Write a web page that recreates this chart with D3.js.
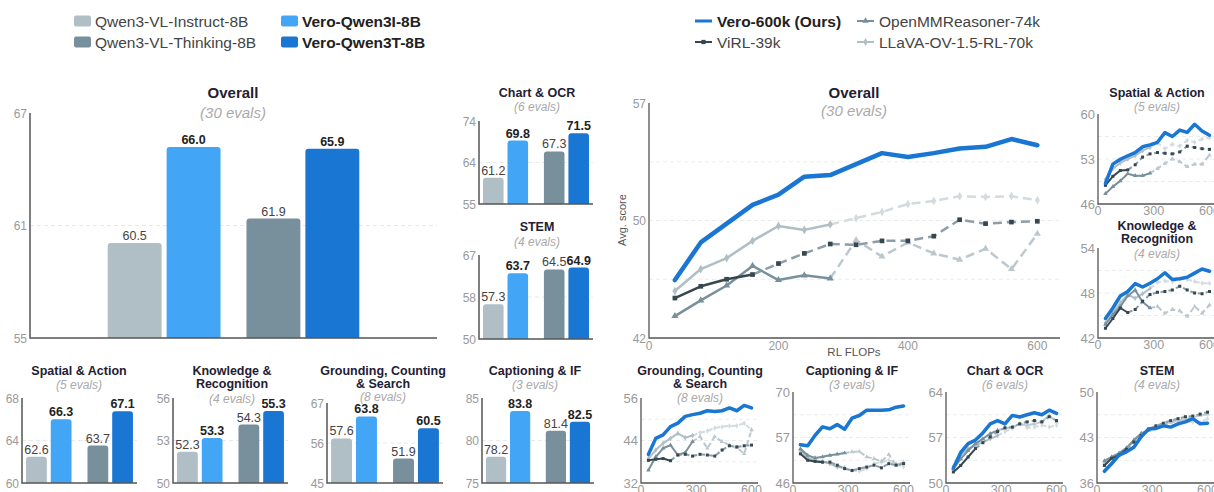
<!DOCTYPE html>
<html><head><meta charset="utf-8">
<script src="https://cdn.jsdelivr.net/npm/d3@7"></script>
<style>
html,body{margin:0;padding:0;background:#fff;overflow:hidden}
svg{display:block;font-family:"Liberation Sans",Arial,Helvetica,sans-serif}
</style></head><body>
<svg id="c" width="1214" height="492"></svg>
<script>
// ---------------- DATA ----------------
const barModels = ["Qwen3-VL-Instruct-8B","Vero-Qwen3I-8B","Qwen3-VL-Thinking-8B","Vero-Qwen3T-8B"];
const barOurs = [false,true,false,true];
const barGroups = ["Instruct","Thinking"];

const barOverall    = [60.5,66.0,61.9,65.9];
const barChartOCR   = [61.2,69.8,67.3,71.5];
const barSTEM       = [57.3,63.7,64.5,64.9];
const barSpatial    = [62.6,66.3,63.7,67.1];
const barKnowledge  = [52.3,53.3,54.3,55.3];
const barGrounding  = [57.6,63.8,51.9,60.5];
const barCaptioning = [78.2,83.8,81.4,82.5];

const barDomOverall=[55.06,67.95], barTickOverall=["55","61","67"];
const barDomChartOCR=[55.1,74.35], barTickChartOCR=["55","64","74"];
const barDomSTEM=[50.1,67.5], barTickSTEM=["50","58","67"];
const barDomSpatial=[60.0,68.4], barTickSpatial=["60","64","68"];
const barDomKnowledge=[50.0,56.25], barTickKnowledge=["50","53","56"];
const barDomGrounding=[45.0,67.6], barTickGrounding=["45","56","67"];
const barDomCaptioning=[75.0,85.4], barTickCaptioning=["75","80","85"];

const lineSeries = ["Vero-600k (Ours)","ViRL-39k","OpenMMReasoner-74k","LLaVA-OV-1.5-RL-70k"];
const lineEpochEnd = [null,160,280,280];
const flops = [40,80,120,160,200,240,280,320,360,400,440,480,520,560,600];

// order: Vero, ViRL, OpenMM, LLaVA
const lineOverall = [
 [45.7,48.1,49.3,50.5,51.15,52.3,52.4,53.1,53.8,53.55,53.8,54.1,54.2,54.7,54.3],
 [44.55,45.3,45.75,46.05,46.75,47.4,48.0,47.95,48.2,48.2,48.5,49.55,49.3,49.4,49.45],
 [43.4,44.4,45.35,46.6,45.7,46.0,45.8,48.25,47.2,48.1,47.4,47.0,47.7,46.4,48.65],
 [45.0,46.4,47.1,48.2,49.15,48.9,49.25,49.65,50.05,50.55,50.75,51.05,51.0,51.05,50.8]];
const lineSpatial = [
 [49.2,52.2,52.95,53.5,54.0,54.9,55.2,55.6,57.1,56.5,57.5,57.15,58.4,57.35,56.7],
 [48.9,50.3,51.2,51.3,52.1,53.3,53.8,54.0,53.9,53.8,54.1,55.0,54.8,54.6,54.5],
 [47.6,48.7,49.6,50.7,50.4,50.4,50.8,51.5,52.3,53.0,52.6,51.8,52.2,52.2,53.6],
 [49.8,51.5,52.4,53.0,53.5,54.3,54.8,55.5,54.6,55.3,55.0,55.9,55.6,56.1,56.3]];
const lineKnowledge = [
 [44.6,46.0,47.6,48.2,49.25,48.8,49.3,49.9,50.7,49.8,49.9,50.1,50.65,51.2,50.9],
 [43.3,44.6,46.0,45.4,45.8,46.9,47.8,48.1,48.2,48.4,48.9,48.4,48.0,47.9,48.2],
 [43.8,45.1,46.2,47.6,48.4,46.8,46.0,46.2,45.3,45.8,45.6,44.9,46.2,45.3,46.4],
 [44.0,45.4,46.7,47.8,47.3,47.9,48.6,49.4,49.6,49.5,49.9,49.8,49.55,49.3,49.3]];
const lineGrounding = [
 [40.05,44.6,45.6,47.9,48.9,50.8,51.3,51.7,52.4,52.2,52.4,53.2,52.4,53.9,53.2],
 [38.4,38.7,38.9,38.3,39.9,40.1,39.6,40.1,39.9,39.6,41.3,42.5,42.2,42.5,42.7],
 [35.6,39.4,41.8,42.7,39.9,40.6,43.7,45.1,41.8,45.1,43.7,42.7,42.0,40.3,47.0],
 [38.9,41.3,43.2,44.6,46.0,44.8,45.4,46.2,46.7,47.5,47.9,48.1,48.2,48.9,47.0]];
const lineCaptioning = [
 [56.1,55.8,58.6,60.8,60.3,61.4,60.2,63.1,63.8,65.2,65.2,65.2,65.3,66.0,66.3],
 [53.7,52.0,51.7,51.5,51.5,50.7,49.8,49.3,49.8,50.2,50.7,50.0,51.1,50.7,51.1],
 [55.0,53.3,52.6,52.9,53.3,53.6,53.9,54.2,54.3,52.9,52.4,51.7,53.5,50.7,51.5],
 [54.6,52.6,52.0,51.7,51.1,50.2,50.0,49.3,49.1,49.8,51.1,51.5,52.0,51.1,50.2]];
const lineChartOCR = [
 [52.3,54.7,56.05,56.6,57.7,59.1,59.6,59.1,60.4,60.15,60.5,60.8,60.5,61.2,60.7],
 [51.7,52.7,54.0,55.3,56.2,57.1,57.9,58.5,58.6,59.1,59.4,59.6,59.4,60.2,59.6],
 [52.2,53.7,55.0,56.05,56.8,57.6,58.1,58.4,58.6,59.1,58.9,59.1,59.4,60.4,59.4],
 [52.5,54.3,55.3,55.8,56.3,56.8,57.3,57.9,58.4,59.1,58.5,58.6,58.9,58.6,58.9]];
const lineSTEM = [
 [37.8,39.0,40.3,40.8,41.5,43.1,44.3,44.4,44.8,44.6,45.1,45.4,45.9,45.1,45.2],
 [38.7,39.8,40.3,41.2,42.3,43.3,44.3,44.8,45.2,45.6,45.9,46.2,46.3,46.6,46.9],
 [39.4,40.0,40.6,41.4,42.6,43.6,44.1,44.6,45.0,45.3,45.6,45.8,46.1,46.4,46.6],
 [39.0,39.9,40.5,41.3,42.4,43.6,44.2,44.5,44.9,45.4,45.6,45.5,45.4,45.3,45.9]];

const lineDomOverall=[42,57], lineTickOverall=["42","50","57"];
const lineDomSpatial=[46,60], lineTickSpatial=["46","53","60"];
const lineDomKnowledge=[42,54], lineTickKnowledge=["42","48","54"];
const lineDomGrounding=[32,56], lineTickGrounding=["32","44","56"];
const lineDomCaptioning=[46,70], lineTickCaptioning=["46","57","70"];
const lineDomChartOCR=[50,64], lineTickChartOCR=["50","57","64"];
const lineDomSTEM=[36,50], lineTickSTEM=["36","43","50"];
const xTicksBig=[0,200,400,600], xTicksSmall=[0,300,600];

// ---------------- STYLE ----------------
const barColors = ["#b0bec5","#42a5f5","#78909c","#1976d2"];
const lineColors = ["#1976d2","#37474f","#78909c","#b0bec5"];
const lineAfter  = [null,"#8d9ea8","#bcc8ce","#d3dbdf"];
const lineSymbols = [null,d3.symbolSquare,d3.symbolTriangle,d3.symbolDiamond];
const TITLE="#1f2033", SUB="#aaaaaa", TICK="#9a9a9a", AXIS="#555";

const svg = d3.select("#c");

function txt(g,x,y,s,opt){
  const t=g.append("text").attr("x",x).attr("y",y).text(s)
   .attr("font-size",opt.size).attr("fill",opt.fill||"#333")
   .attr("text-anchor",opt.anchor||"middle");
  if(opt.bold) t.attr("font-weight","bold");
  if(opt.italic) t.attr("font-style","italic");
  return t;
}
function titles(g,p){
  p.title.forEach((t,i)=>txt(g,p.tx,p.ty[i]+p.ts*0.36,t,{size:p.ts,bold:true,fill:TITLE}));
  txt(g,p.tx,p.sy+p.ss*0.36,p.sub,{size:p.ss,italic:true,fill:SUB});
}

// ---------------- LEGENDS ----------------
(function(){
  const g=svg.append("g");
  const pos=[[74,21],[281,21],[74,42],[281,42]];
  barModels.forEach((m,i)=>{
    const [x,y]=pos[i];
    g.append("rect").attr("x",x).attr("y",y-5.5).attr("width",17).attr("height",11).attr("rx",2).attr("fill",barColors[i]);
    txt(g,x+21,y+5.5,m,{size:15.5,anchor:"start",bold:barOurs[i],fill:barOurs[i]?"#222":"#444"});
  });
  const lpos=[[695,21],[857,21],[695,42],[857,42]];
  const lorder=[0,2,1,3]; // Vero, OpenMM (row1), ViRL, LLaVA (row2)
  lorder.forEach((si,k)=>{
    const [x,y]=lpos[k];
    g.append("line").attr("x1",x).attr("x2",x+17).attr("y1",y).attr("y2",y)
      .attr("stroke",lineColors[si]).attr("stroke-width",si===0?3:2);
    if(lineSymbols[si]) g.append("path").attr("d",d3.symbol().type(lineSymbols[si]).size(18)())
      .attr("transform",`translate(${x+8.5},${y})`).attr("fill",lineColors[si]);
    txt(g,x+22,y+5.5,lineSeries[si],{size:15.5,anchor:"start",bold:si===0,fill:si===0?"#222":"#444"});
  });
})();

// ---------------- BAR PANELS ----------------
const barPanels=[
 {title:["Overall"],sub:"(30 evals)",v:barOverall,dom:barDomOverall,tk:barTickOverall,x0:30,x1:437,y0:113,y1:338,tx:233,ty:[93],sy:113,ts:15,ss:15,pi:0.187,po:0.56,ps:0.085},
 {title:["Chart & OCR"],sub:"(6 evals)",v:barChartOCR,dom:barDomChartOCR,tk:barTickChartOCR,x0:479,x1:593,y0:121,y1:204,tx:537,ty:[92],sy:107,ts:12.5,ss:12,pi:0.26,po:0.066,ps:0.16},
 {title:["STEM"],sub:"(4 evals)",v:barSTEM,dom:barDomSTEM,tk:barTickSTEM,x0:479,x1:593,y0:255,y1:339,tx:537,ty:[226],sy:242,ts:12.5,ss:12,pi:0.26,po:0.066,ps:0.16},
 {title:["Spatial & Action"],sub:"(5 evals)",v:barSpatial,dom:barDomSpatial,tk:barTickSpatial,x0:22,x1:137,y0:398,y1:483,tx:79,ty:[370],sy:385,ts:12.5,ss:12,pi:0.26,po:0.066,ps:0.16},
 {title:["Knowledge &","Recognition"],sub:"(4 evals)",v:barKnowledge,dom:barDomKnowledge,tk:barTickKnowledge,x0:173,x1:288,y0:398,y1:483,tx:232,ty:[370,383],sy:399,ts:12.5,ss:12,pi:0.26,po:0.066,ps:0.16},
 {title:["Grounding, Counting","& Search"],sub:"(8 evals)",v:barGrounding,dom:barDomGrounding,tk:barTickGrounding,x0:327,x1:443,y0:403,y1:483,tx:383,ty:[370,383],sy:397,ts:12.5,ss:12,pi:0.26,po:0.066,ps:0.16},
 {title:["Captioning & IF"],sub:"(3 evals)",v:barCaptioning,dom:barDomCaptioning,tk:barTickCaptioning,x0:482,x1:594,y0:398,y1:483,tx:535,ty:[370],sy:385,ts:12.5,ss:12,pi:0.26,po:0.066,ps:0.16}
];
function topRounded(x,yt,w,yb,r){
  r=Math.min(r,w/2,(yb-yt));
  return `M${x},${yb}V${yt+r}Q${x},${yt} ${x+r},${yt}H${x+w-r}Q${x+w},${yt} ${x+w},${yt+r}V${yb}Z`;
}
barPanels.forEach(p=>{
  const g=svg.append("g");
  const y=d3.scaleLinear().domain(p.dom).range([p.y1,p.y0]);
  const xg=d3.scaleBand().domain(barGroups).range([p.x0,p.x1]).paddingInner(p.pi).paddingOuter(p.po);
  const xs=d3.scaleBand().domain([0,1]).range([0,xg.bandwidth()]).paddingInner(p.ps);
  const mid=(p.dom[0]+p.dom[1])/2;
  g.append("line").attr("x1",p.x0).attr("x2",p.x1).attr("y1",y(mid)).attr("y2",y(mid))
    .attr("stroke","#e8e8e8").attr("stroke-dasharray","4,3");
  titles(g,p);
  p.v.forEach((v,i)=>{
    const bx=xg(barGroups[Math.floor(i/2)])+xs(i%2), bw=xs.bandwidth();
    g.append("path").attr("d",topRounded(bx,y(v),bw,p.y1,3)).attr("fill",barColors[i]);
    txt(g,bx+bw/2,y(v)-3,v.toFixed(1),{size:12.5,bold:barOurs[i],fill:barOurs[i]?"#222":"#444"});
  });
  [p.dom[0],mid,p.dom[1]].forEach((t,i)=>txt(g,p.x0-3,y(t)+4.5,p.tk[i],{size:12,anchor:"end",fill:TICK}));
  g.append("path").attr("d",`M${p.x0},${p.y0}V${p.y1}H${p.x1}`).attr("fill","none").attr("stroke",AXIS).attr("stroke-width",1.5);
});

// ---------------- LINE PANELS ----------------
const linePanels=[
 {big:true,title:["Overall"],sub:"(30 evals)",d:lineOverall,dom:lineDomOverall,tk:lineTickOverall,xt:xTicksBig,x0:649,x1:1060,y0:103,y1:338,tx:854,ty:[93],sy:111,ts:15,ss:15},
 {title:["Spatial & Action"],sub:"(5 evals)",d:lineSpatial,dom:lineDomSpatial,tk:lineTickSpatial,xt:xTicksSmall,x0:1098,x1:1216,y0:114,y1:204,tx:1157,ty:[92],sy:107,ts:12.5,ss:12},
 {title:["Knowledge &","Recognition"],sub:"(4 evals)",d:lineKnowledge,dom:lineDomKnowledge,tk:lineTickKnowledge,xt:xTicksSmall,x0:1098,x1:1216,y0:248,y1:338,tx:1157,ty:[225,238],sy:254,ts:12.5,ss:12},
 {title:["Grounding, Counting","& Search"],sub:"(8 evals)",d:lineGrounding,dom:lineDomGrounding,tk:lineTickGrounding,xt:xTicksSmall,x0:641,x1:758,y0:398,y1:483,tx:700,ty:[370,383],sy:398,ts:12.5,ss:12},
 {title:["Captioning & IF"],sub:"(3 evals)",d:lineCaptioning,dom:lineDomCaptioning,tk:lineTickCaptioning,xt:xTicksSmall,x0:793,x1:910,y0:392,y1:483,tx:852,ty:[370],sy:385,ts:12.5,ss:12},
 {title:["Chart & OCR"],sub:"(6 evals)",d:lineChartOCR,dom:lineDomChartOCR,tk:lineTickChartOCR,xt:xTicksSmall,x0:946,x1:1063,y0:392,y1:483,tx:1005,ty:[370],sy:385,ts:12.5,ss:12},
 {title:["STEM"],sub:"(4 evals)",d:lineSTEM,dom:lineDomSTEM,tk:lineTickSTEM,xt:xTicksSmall,x0:1097,x1:1214,y0:392,y1:483,tx:1157,ty:[370],sy:385,ts:12.5,ss:12}
];
linePanels.forEach(p=>{
  const g=svg.append("g");
  const x=d3.scaleLinear().domain([0,635]).range([p.x0,p.x1]);
  const y=d3.scaleLinear().domain(p.dom).range([p.y1,p.y0]);
  [0.25,0.5,0.75].forEach(f=>{
    const yy=p.y1-(p.y1-p.y0)*f;
    g.append("line").attr("x1",p.x0).attr("x2",p.x1).attr("y1",yy).attr("y2",yy)
      .attr("stroke","#ececec").attr("stroke-dasharray","4,3");
  });
  titles(g,p);
  const line=d3.line().x(d=>x(d[0])).y(d=>y(d[1]));
  const msz=p.big?22:9;
  [3,2,1,0].forEach(si=>{
    const pts=flops.map((f,i)=>[f,p.d[si][i]]);
    const col=lineColors[si];
    if(si===0){
      g.append("path").attr("d",line(pts)).attr("fill","none").attr("stroke",col)
        .attr("stroke-width",p.big?4.5:3.5).attr("stroke-linejoin","round").attr("stroke-linecap","round");
      return;
    }
    const e=lineEpochEnd[si];
    const light=lineAfter[si];
    const a=pts.filter(d=>d[0]<=e), b=pts.filter(d=>d[0]>=e);
    g.append("path").attr("d",line(b)).attr("fill","none").attr("stroke",light)
      .attr("stroke-width",p.big?2.5:2).attr("stroke-dasharray",p.big?"9,5":"5,3");
    g.append("path").attr("d",line(a)).attr("fill","none").attr("stroke",col)
      .attr("stroke-width",p.big?2.5:2).attr("stroke-linejoin","round");
    pts.forEach(d=>{
      g.append("path").attr("d",d3.symbol().type(lineSymbols[si]).size(msz)())
        .attr("transform",`translate(${x(d[0])},${y(d[1])})`)
        .attr("fill",d[0]<=e||si===1?col:light);
    });
  });
  const mid=(p.dom[0]+p.dom[1])/2;
  [p.dom[0],mid,p.dom[1]].forEach((t,i)=>txt(g,p.x0-3,y(t)+4.5,p.tk[i],{size:p.big?12:13,anchor:"end",fill:TICK}));
  p.xt.forEach(t=>txt(g,x(t),p.y1+(p.big?11.5:11),String(t),{size:p.big?12:12.5,fill:TICK}));
  g.append("path").attr("d",`M${p.x0},${p.y0}V${p.y1}H${p.x1}`).attr("fill","none").attr("stroke",AXIS).attr("stroke-width",1.3);
  if(p.big){
    txt(g,854,356,"RL FLOPs",{size:11.5,fill:"#555"});
    g.append("text").attr("transform","translate(626,220) rotate(-90)").attr("text-anchor","middle")
      .attr("font-size",11).attr("fill","#555").text("Avg. score");
  }
});
</script>
</body></html>
